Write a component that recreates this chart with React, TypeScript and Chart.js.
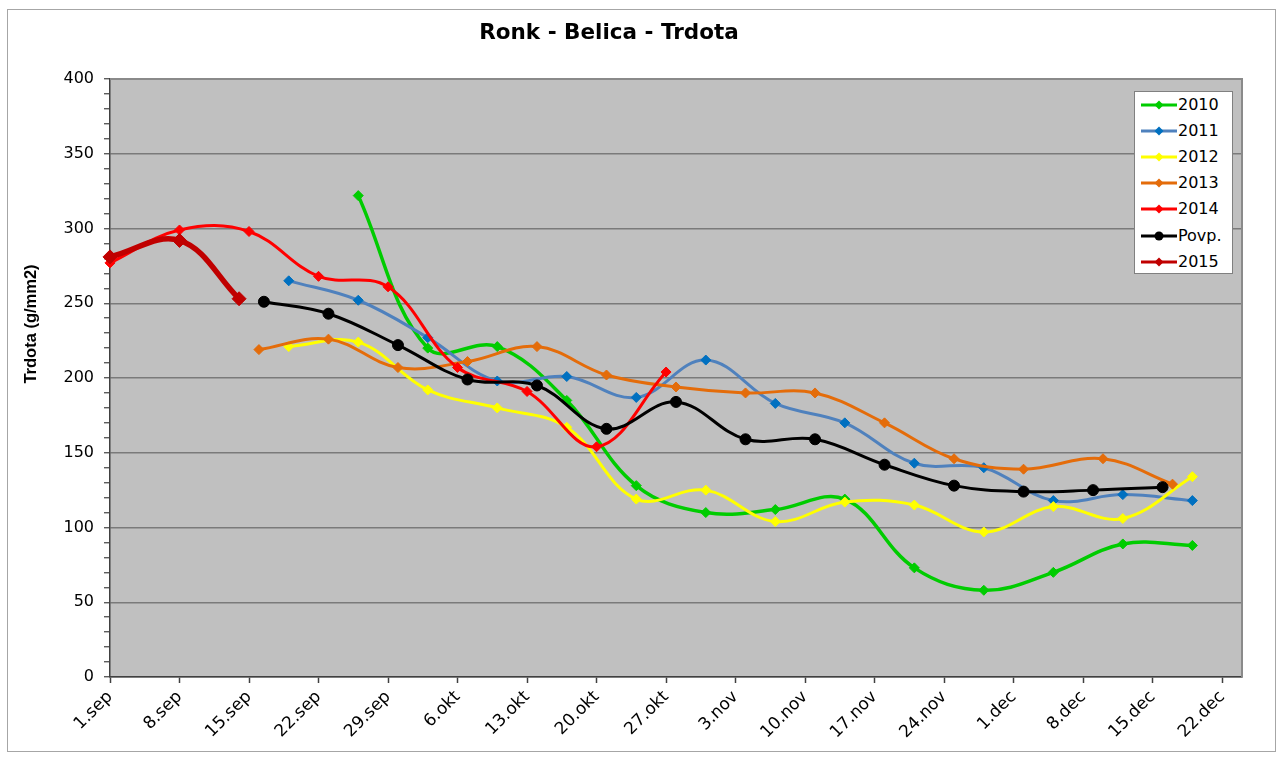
import React, { useEffect, useRef } from "react";
import { Chart, registerables } from "chart.js";

Chart.register(...registerables);

// ---- Data (x = days since 1 Sep) ----
const xTickDays = [0, 7, 14, 21, 28, 35, 42, 49, 56, 63, 70, 77, 84, 91, 98, 105, 112];
const xTickLabels = [
  "1.sep", "8.sep", "15.sep", "22.sep", "29.sep", "6.okt", "13.okt", "20.okt",
  "27.okt", "3.nov", "10.nov", "17.nov", "24.nov", "1.dec", "8.dec", "15.dec", "22.dec",
];
const yMajorTicks = [0, 50, 100, 150, 200, 250, 300, 350, 400];

const days2010 = [25, 32, 39, 46, 53, 60, 67, 74, 81, 88, 95, 102, 109];
const vals2010 = [322, 220, 221, 185, 128, 110, 112, 119, 73, 58, 70, 89, 88];

const days2011 = [18, 25, 32, 39, 46, 53, 60, 67, 74, 81, 88, 95, 102, 109];
const vals2011 = [265, 252, 227, 198, 201, 187, 212, 183, 170, 143, 140, 118, 122, 118];

const days2012 = [18, 25, 32, 39, 46, 53, 60, 67, 74, 81, 88, 95, 102, 109];
const vals2012 = [221, 224, 192, 180, 167, 119, 125, 104, 117, 115, 97, 114, 106, 134];

const days2013 = [15, 22, 29, 36, 43, 50, 57, 64, 71, 78, 85, 92, 100, 107];
const vals2013 = [219, 226, 207, 211, 221, 202, 194, 190, 190, 170, 146, 139, 146, 129];

const days2014 = [0, 7, 14, 21, 28, 35, 42, 49, 56];
const vals2014 = [277, 299, 298, 268, 261, 207, 191, 154, 204];

const daysPovp = [15.5, 22, 29, 36, 43, 50, 57, 64, 71, 78, 85, 92, 99, 106];
const valsPovp = [251, 243, 222, 199, 195, 166, 184, 159, 159, 142, 128, 124, 125, 127];

const days2015 = [0, 7, 13];
const vals2015 = [281, 292, 253];

const TITLE = "Ronk - Belica - Trdota";
const Y_TITLE = "Trdota (g/mm2)";

const legendItems = [
  { label: "2010", line: "#00CC00", marker: "#00CC00", shape: "diamond" },
  { label: "2011", line: "#4F81BD", marker: "#0070C0", shape: "diamond" },
  { label: "2012", line: "#FFFF00", marker: "#FFFF00", shape: "diamond" },
  { label: "2013", line: "#E46C0A", marker: "#E46C0A", shape: "diamond" },
  { label: "2014", line: "#FF0000", marker: "#FF0000", shape: "diamond" },
  { label: "Povp.", line: "#000000", marker: "#000000", shape: "circle" },
  { label: "2015", line: "#C00000", marker: "#C00000", shape: "diamond" },
];

const FONT = "'DejaVu Sans', 'Liberation Sans', sans-serif";

function zip(xs: number[], ys: number[]) {
  return xs.map((x, i) => ({ x, y: ys[i] }));
}

function makeDs(
  label: string,
  xs: number[],
  ys: number[],
  line: string,
  marker: string,
  order: number,
  extra: any = {}
) {
  return {
    label,
    data: zip(xs, ys),
    borderColor: line,
    backgroundColor: marker,
    pointBackgroundColor: marker,
    pointBorderColor: marker,
    pointStyle: "rectRot",
    pointRadius: 5,
    pointBorderWidth: 1,
    borderWidth: 3,
    tension: 0.38,
    fill: false,
    clip: false,
    order,
    ...extra,
  };
}

const decorPlugin = {
  id: "decor",
  beforeDraw(chart: any) {
    const { ctx, chartArea: a } = chart;
    ctx.save();
    ctx.fillStyle = "#ffffff";
    ctx.fillRect(0, 0, chart.width, chart.height);
    ctx.strokeStyle = "#a6a6a6";
    ctx.lineWidth = 1;
    ctx.strokeRect(7.5, 9.5, 1268, 742);
    ctx.fillStyle = "#c0c0c0";
    ctx.fillRect(a.left, a.top, a.right - a.left, a.bottom - a.top);
    ctx.restore();
  },
  beforeDatasetsDraw(chart: any) {
    const { ctx, chartArea: a } = chart;
    ctx.save();
    ctx.strokeStyle = "#8a8a8a";
    ctx.lineWidth = 2;
    ctx.beginPath();
    ctx.moveTo(a.left, a.top);
    ctx.lineTo(a.right, a.top);
    ctx.lineTo(a.right, a.bottom);
    ctx.stroke();
    ctx.restore();
  },
  afterDraw(chart: any) {
    const { ctx } = chart;
    ctx.save();
    ctx.fillStyle = "#000";
    ctx.textAlign = "center";
    ctx.textBaseline = "middle";
    ctx.font = "bold 21.5px 'DejaVu Sans', sans-serif";
    ctx.fillText(TITLE, 609, 33);
    ctx.translate(31, 324);
    ctx.rotate(-Math.PI / 2);
    ctx.font = "bold 16.5px 'Liberation Sans', Arial, sans-serif";
    ctx.fillText(Y_TITLE, 0, 0);
    ctx.restore();
  },
};

function LegendMarker({ item }: { item: any }) {
  return (
    <svg width={36} height={12} style={{ display: "block", flex: "0 0 auto" }}>
      <line x1={0} y1={6} x2={36} y2={6} stroke={item.line} strokeWidth={3} />
      {item.shape === "circle" ? (
        <circle cx={18} cy={6} r={4.5} fill={item.marker} />
      ) : (
        <polygon points="18,1.5 22.5,6 18,10.5 13.5,6" fill={item.marker} />
      )}
    </svg>
  );
}

export default function App() {
  const canvasRef = useRef<HTMLCanvasElement | null>(null);

  useEffect(() => {
    if (!canvasRef.current) return;
    const tickFont = { family: FONT, size: 16 };
    const xTickFont = { family: FONT, size: 17 };
    const chart = new Chart(canvasRef.current, {
      type: "line",
      data: {
        datasets: [
          makeDs("2010", days2010, vals2010, "#00CC00", "#00CC00", 6, { borderWidth: 3.5 }),
          makeDs("2011", days2011, vals2011, "#4F81BD", "#0070C0", 5),
          makeDs("2012", days2012, vals2012, "#FFFF00", "#FFFF00", 4),
          makeDs("2013", days2013, vals2013, "#E46C0A", "#E46C0A", 3),
          makeDs("2014", days2014, vals2014, "#FF0000", "#FF0000", 2),
          makeDs("Povp.", daysPovp, valsPovp, "#000000", "#000000", 1, {
            pointStyle: "circle",
            pointRadius: 5.5,
          }),
          makeDs("2015", days2015, vals2015, "#C00000", "#C00000", 0, {
            borderWidth: 5.5,
            pointRadius: 7,
          }),
        ] as any,
      },
      options: {
        responsive: false,
        animation: false,
        events: [],
        layout: { padding: { left: 0, top: 79, right: 40, bottom: 0 } },
        plugins: {
          legend: { display: false },
          title: { display: false },
          tooltip: { enabled: false },
        },
        scales: {
          x: {
            type: "linear",
            min: 0,
            max: 114,
            afterBuildTicks: (s: any) => {
              s.ticks = xTickDays.map((v) => ({ value: v }));
            },
            afterFit: (s: any) => {
              s.height = 81;
            },
            ticks: {
              autoSkip: false,
              minRotation: 45,
              maxRotation: 45,
              padding: 4,
              color: "#000",
              font: xTickFont,
              callback: (v: any) => {
                const i = xTickDays.indexOf(Number(v));
                return i >= 0 ? xTickLabels[i] : "";
              },
            },
            grid: {
              drawOnChartArea: false,
              drawTicks: true,
              tickLength: 6,
              tickColor: "#404040",
              tickWidth: 1.5,
            },
            border: { color: "#404040", width: 1.5 },
          },
          y: {
            min: 0,
            max: 400,
            afterFit: (s: any) => {
              s.width = 110;
            },
            ticks: {
              stepSize: 10,
              autoSkip: false,
              padding: 10,
              color: "#000",
              font: tickFont,
              callback: (v: any) => (yMajorTicks.includes(Number(v)) ? String(v) : ""),
            },
            grid: {
              color: (ctx: any) =>
                ctx.tick && yMajorTicks.includes(ctx.tick.value) ? "#7a7a7a" : "rgba(0,0,0,0)",
              lineWidth: 1.5,
              tickColor: "#404040",
              tickLength: 6,
              tickWidth: 1.2,
            },
            border: { color: "#404040", width: 1.5 },
          },
        },
      } as any,
      plugins: [decorPlugin as any],
    });
    return () => chart.destroy();
  }, []);

  return (
    <div style={{ position: "fixed", left: 0, top: 0, width: 1282, height: 758, background: "#fff" }}>
      <canvas
        ref={canvasRef}
        width={1282}
        height={758}
        style={{ position: "absolute", left: 0, top: 0, width: 1282, height: 758 }}
      />
      <div
        style={{
          position: "absolute",
          left: 1134,
          top: 91,
          width: 99,
          height: 183,
          boxSizing: "border-box",
          background: "#fff",
          border: "1px solid #808080",
          paddingLeft: 6,
          fontFamily: FONT,
          fontSize: 16,
          color: "#000",
        }}
      >
        {legendItems.map((it) => (
          <div
            key={it.label}
            style={{ height: 26.1, display: "flex", alignItems: "center", whiteSpace: "nowrap" }}
          >
            <LegendMarker item={it} />
            <span style={{ marginLeft: 1, lineHeight: "16px" }}>{it.label}</span>
          </div>
        ))}
      </div>
    </div>
  );
}
